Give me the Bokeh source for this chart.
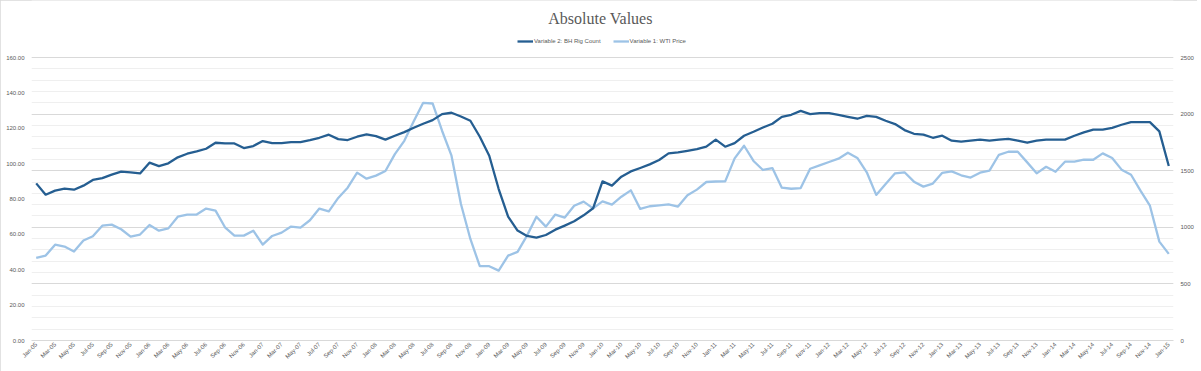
import math
import pandas as pd
from bokeh.plotting import figure
from bokeh.models import (Range1d, LinearAxis, FixedTicker, NumeralTickFormatter,
                          Legend, LegendItem, Label)
from bokeh.embed import file_html
from bokeh.resources import INLINE

# ---- data -------------------------------------------------------------
months = pd.date_range("2005-01-01", "2015-01-01", freq="MS").strftime("%b-%y").tolist()

wti_price = [46.7, 48.0, 54.2, 53.1, 50.3, 56.5, 58.9, 64.9, 65.5, 62.9, 58.7, 59.9,
             65.3, 62.1, 63.4, 70.0, 71.2, 71.2, 74.6, 73.4, 64.0, 59.3, 59.3, 62.1,
             54.2, 59.1, 61.0, 64.4, 63.8, 68.0, 74.6, 73.0, 80.6, 86.4, 94.9, 91.5,
             93.2, 95.8, 105.4, 112.9, 123.9, 134.4, 134.0, 118.6, 104.5, 77.2, 57.4, 42.0,
             42.0, 39.5, 48.0, 50.1, 59.3, 70.0, 64.4, 71.2, 69.5, 76.2, 78.5, 74.7,
             78.7, 76.8, 81.3, 84.9, 74.4, 75.9, 76.4, 77.0, 75.7, 82.1, 85.3, 89.6,
             89.9, 90.0, 103.0, 110.1, 101.5, 96.4, 97.5, 86.4, 85.8, 86.2, 97.1, 99.0,
             100.9, 102.8, 106.2, 103.2, 95.1, 82.3, 88.5, 94.5, 95.1, 89.8, 87.0, 88.7,
             94.8, 95.6, 93.4, 92.1, 94.9, 96.0, 105.0, 106.7, 106.7, 100.7, 94.5, 98.2,
             95.4, 101.1, 101.1, 102.2, 102.2, 105.8, 103.2, 96.6, 93.7, 84.7, 76.2, 55.9,
             49.0]

rig_count = [1388, 1288, 1324, 1341, 1332, 1368, 1418, 1435, 1465, 1491, 1485, 1476,
             1571, 1541, 1565, 1618, 1650, 1671, 1694, 1747, 1741, 1741, 1700, 1718,
             1762, 1744, 1744, 1753, 1753, 1771, 1791, 1818, 1779, 1771, 1800, 1821,
             1806, 1774, 1809, 1841, 1879, 1915, 1947, 2000, 2012, 1979, 1941, 1800,
             1632, 1338, 1094, 971, 924, 909, 932, 979, 1015, 1053, 1106, 1168,
             1406, 1368, 1447, 1494, 1524, 1556, 1594, 1653, 1662, 1676, 1691, 1712,
             1775, 1712, 1744, 1809, 1844, 1882, 1915, 1976, 1994, 2029, 2000, 2009,
             2009, 1994, 1976, 1959, 1985, 1976, 1941, 1912, 1859, 1826, 1818, 1791,
             1809, 1765, 1756, 1765, 1774, 1765, 1774, 1782, 1765, 1747, 1765, 1774,
             1774, 1774, 1809, 1838, 1862, 1862, 1879, 1906, 1929, 1929, 1929, 1847,
             1541]

left_ticks = [0, 20, 40, 60, 80, 100, 120, 140, 160]
right_ticks = [0, 500, 1000, 1500, 2000, 2500]
left_max, right_max = 160, 2500

idx = list(range(len(months)))

# ---- layout (pixels) ----------------------------------------------------
W, H = 1197, 371
B_LEFT, B_RIGHT, B_BOTTOM = 31, 24, 31
PLOT_TOP = 57                      # where the value 160 / 2500 sits
FRAME_W = W - B_LEFT - B_RIGHT
FRAME_H = H - B_BOTTOM             # frame reaches the top of the canvas
DATA_H = FRAME_H - PLOT_TOP        # pixel height of the 0..160 band
stretch = FRAME_H / DATA_H         # extra room above the data band for title/legend

p = figure(width=W, height=H, output_backend="svg", toolbar_location=None,
           x_range=Range1d(-0.5, len(months) - 0.5),
           y_range=Range1d(0, left_max * stretch),
           min_border_left=B_LEFT, min_border_right=B_RIGHT, min_border_top=0,
           min_border_bottom=B_BOTTOM)
p.extra_y_ranges = {"rig": Range1d(0, right_max * stretch)}
p.outline_line_color = None
p.background_fill_color = "white"
p.border_fill_color = "white"
p.title.text = ""
p.styles = {"outline": "1px solid #d9d9d9", "outline-offset": "-1px"}


def style_axis(ax, size, standoff):
    ax.axis_line_color = None
    ax.major_tick_line_color = None
    ax.minor_tick_line_color = None
    ax.major_tick_out = 0
    ax.major_tick_in = 0
    ax.minor_tick_out = 0
    ax.minor_tick_in = 0
    ax.major_label_text_font = "Liberation Sans"
    ax.major_label_text_font_size = size
    ax.major_label_text_color = "#595959"
    ax.major_label_standoff = standoff


# left axis
ya = p.yaxis[0]
ya.ticker = FixedTicker(ticks=left_ticks)
ya.formatter = NumeralTickFormatter(format="0.00")
style_axis(ya, "6px", 7)

# right axis
ra = LinearAxis(y_range_name="rig", ticker=FixedTicker(ticks=right_ticks),
                formatter=NumeralTickFormatter(format="0"))
style_axis(ra, "6px", 7)
p.add_layout(ra, "right")

# x axis
xa = p.xaxis[0]
xa.ticker = FixedTicker(ticks=idx[::2])
xa.major_label_overrides = {i: months[i] for i in idx[::2]}
xa.major_label_orientation = math.pi / 4
style_axis(xa, "6px", 3)
xa.axis_line_color = "#d9d9d9"

# grid following the right axis (major every 500, minor every 100)
p.xgrid.visible = False
p.ygrid.ticker = FixedTicker(ticks=[t * left_max / right_max for t in right_ticks],
                             minor_ticks=[k * 100 * left_max / right_max for k in range(26)])
p.ygrid.grid_line_color = "#d9d9d9"
p.ygrid.minor_grid_line_color = "#efefef"

light = p.line(idx, wti_price, line_color="#9DC3E6", line_width=2.3, line_join="round")
dark = p.line(idx, rig_count, y_range_name="rig", line_color="#255E91", line_width=2.3,
              line_join="round")

# title (inside the frame's upper band)
p.add_layout(Label(x=FRAME_W / 2 - 2, y=FRAME_H - 18, x_units="screen", y_units="screen",
                   text="Absolute Values", text_align="center", text_baseline="middle",
                   text_font="Liberation Serif", text_font_size="16px",
                   text_color="#595959"))

legend = Legend(items=[LegendItem(label="Variable 2: BH Rig Count", renderers=[dark]),
                       LegendItem(label="Variable 1: WTI Price", renderers=[light])],
                orientation="horizontal", location=(486, FRAME_H - 45),
                glyph_width=16, glyph_height=8, label_height=8, label_standoff=1,
                spacing=12, padding=0, margin=0, border_line_color=None,
                background_fill_alpha=0, label_text_font="Liberation Sans",
                label_text_font_size="6px", label_text_color="#595959")
p.add_layout(legend)

open("out.html", "w").write(file_html(p, INLINE))
